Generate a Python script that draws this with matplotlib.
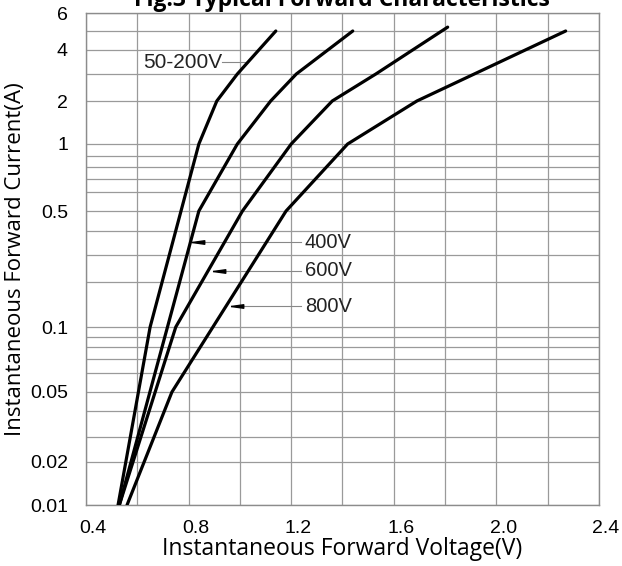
import numpy as np
import matplotlib
matplotlib.use('Agg')
import matplotlib.pyplot as plt
from matplotlib.transforms import ScaledTranslation

# forward curves: voltage (V) vs current (A)
v_50_200 = [0.525, 0.65, 0.84, 0.91, 0.99, 1.14]
i_50_200 = [0.01, 0.1, 1, 2, 3, 5]
v_400 = [0.53, 0.84, 0.99, 1.12, 1.22, 1.44]
i_400 = [0.01, 0.5, 1, 2, 3, 5]
v_600 = [0.53, 0.75, 1.01, 1.2, 1.36, 1.53, 1.81]
i_600 = [0.01, 0.1, 0.5, 1, 2, 3, 5.2]
v_800 = [0.56, 0.735, 1.18, 1.42, 1.69, 2.27]
i_800 = [0.01, 0.05, 0.5, 1, 2, 5]

x_ticks = [0.4, 0.8, 1.2, 1.6, 2.0, 2.4]
x_labels = ['0.4', '0.8', '1.2', '1.6', '2.0', '2.4']
y_ticks = [0.01, 0.02, 0.05, 0.1, 0.5, 1, 2, 4, 6]
y_labels = ['0.01', '0.02', '0.05', '0.1', '0.5', '1', '2', '4', '6']

# the printed log paper is not a true log scale, so map the grid lines
# to where they sit on the sheet (height above the 0.01 line)
grid_i = [1e-6, 0.01, 0.02, 0.03, 0.04, 0.05, 0.06, 0.07, 0.08, 0.09,
          0.1, 0.2, 0.3, 0.4, 0.5, 0.6, 0.7, 0.8, 0.9,
          1, 2, 3, 4, 5, 6, 1e6]
grid_pos = [-720, 0, 43, 68, 94, 113, 132, 146, 158, 168,
            178, 223, 250, 274, 294, 313, 326, 338, 349,
            361, 404, 431, 455, 474, 492, 1432]
log_i = np.log10(grid_i)


def fwd(v):
    v = np.clip(np.asarray(v, dtype=float), 1e-9, None)
    return np.interp(np.log10(v), log_i, grid_pos)


def inv(p):
    return 10 ** np.interp(np.asarray(p, dtype=float), grid_pos, log_i)


W, H = 622, 566
fig = plt.figure(figsize=(W / 100, H / 100), dpi=100)
ax = fig.add_axes([86 / W, (H - 505) / H, 513 / W, 492 / H])
ax.set_yscale('function', functions=(fwd, inv))
ax.set_xlim(0.4, 2.4)
ax.set_ylim(0.01, 6)

for v, i in [(v_50_200, i_50_200), (v_400, i_400), (v_600, i_600), (v_800, i_800)]:
    ax.plot(v, i, color='black', lw=2.3, solid_capstyle='round', zorder=5)

ax.set_xticks(x_ticks)
ax.set_xticklabels(x_labels)
ax.set_xticks(np.arange(0.6, 2.4, 0.4), minor=True)
ax.set_yticks(y_ticks)
ax.set_yticklabels(y_labels)
ax.set_yticks([g for g in grid_i[1:-1] if g not in y_ticks], minor=True)
ax.yaxis.set_minor_formatter(plt.NullFormatter())
ax.tick_params(which='both', length=0)
ax.tick_params(axis='x', pad=11, labelsize=14)
ax.tick_params(axis='y', pad=13, labelsize=14)
for lab in ax.get_xticklabels():
    lab.set_fontfamily('Liberation Sans')
    lab.set_transform(lab.get_transform() + ScaledTranslation(0.07, 0, fig.dpi_scale_trans))
for lab in ax.get_yticklabels():
    lab.set_fontfamily('Liberation Sans')

ax.grid(which='both', color='#9a9a9a', lw=0.9)
ax.set_axisbelow(True)
for s in ax.spines.values():
    s.set_color('#8c8c8c')
    s.set_linewidth(1.0)

ax.set_xlabel('Instantaneous Forward Voltage(V)', fontfamily='Open Sans',
              fontsize=16.5, labelpad=0)
ax.set_ylabel('Instantaneous Forward Current(A)', fontfamily='Open Sans',
              fontsize=16, labelpad=3)

# curve labels
ax.text(0.93, 3.45, '50-200V', ha='right', va='center', fontsize=15,
        fontfamily='Liberation Sans', color='#222222',
        bbox=dict(facecolor='white', edgecolor='none', pad=1), zorder=4)
ax.plot([0.93, 1.025], [3.45, 3.45], color='#888888', lw=0.8, zorder=4)

wedge = [(-1, 0), (1, 0.28), (1, -0.28), (-1, 0)]
for tip, y, name in [(0.81, 0.35, '400V'), (0.895, 0.236, '600V'), (0.965, 0.138, '800V')]:
    ax.plot([tip, 1.24], [y, y], color='#888888', lw=0.8, zorder=4)
    ax.plot(tip + 0.025, y, marker=wedge, ms=9, color='black', zorder=6)
    ax.text(1.253, y, name, ha='left', va='center', fontsize=14.5,
            fontfamily='Liberation Sans', color='#222222', zorder=4)

fig.text(342 / W, 1 - 6 / H, 'Fig.3 Typical Forward Characteristics',
         ha='center', va='baseline', fontsize=16.5, fontweight='bold',
         fontfamily='Open Sans')

fig.savefig('out.png', dpi=100)
